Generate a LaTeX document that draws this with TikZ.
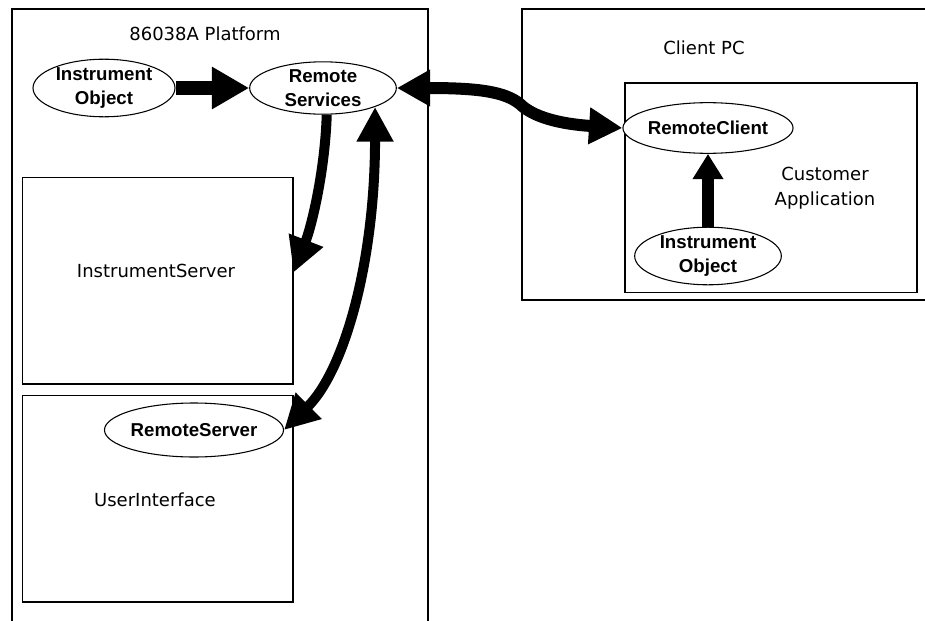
\documentclass[tikz,border=0pt]{standalone}
\usepackage{fontspec}
\setmainfont{DejaVu Sans}
\newfontfamily\ellfont{Liberation Sans}
\usetikzlibrary{shapes.geometric,arrows.meta}

\tikzset{
  oval/.style={draw,ellipse,fill=white,line width=0.8pt,inner sep=0pt,align=center,
    font=\ellfont\bfseries\fontsize{14}{18}\selectfont},
  box/.style={draw,line width=1pt,inner sep=0pt},
  lab/.style={align=center,font=\fontsize{13.5}{19}\selectfont},
  fat/.style={line width=8pt,-{Triangle[length=26pt,width=26pt]}},
  fatboth/.style={line width=8pt,{Triangle[length=26pt,width=26pt]}-{Triangle[length=26pt,width=26pt]}},
}

\begin{document}
\begin{tikzpicture}[x=0.75pt,y=-0.75pt]
  \useasboundingbox (0,0) rectangle (925,621);
  % frames, cut by the page edge
  \draw[line width=1pt] (12,621) -- (12,9) -- (428,9) -- (428,621);
  \draw[line width=1pt] (925,9) -- (522,9) -- (522,300) -- (925,300);
  \node[lab] (plat) at (205,34) {86038A Platform};
  \node[lab] (pc) at (704,48) {Client PC};

  % inner boxes
  \node[box,minimum width=203pt,minimum height=155pt] (isrv) at (157.5,280.5) {};
  \node[box,minimum width=203pt,minimum height=155pt] (ui) at (157.5,498.5) {};
  \node[box,minimum width=219pt,minimum height=157pt] (app) at (771,187.5) {};
  \node[lab] (isrvlab) at (156,271) {InstrumentServer};
  \node[lab] (uilab) at (155,500) {UserInterface};
  \node[lab] (applab) at (825,188) {Customer\\Application};

  % objects
  \node[oval,minimum width=106.5pt,minimum height=40pt] (io) at (104,88) {Instrument\\Object};
  \node[oval,minimum width=110pt,minimum height=38pt] (rs) at (323,88) {Remote\\Services};
  \node[oval,minimum width=117pt,minimum height=40.5pt] (rsrv) at (194,430) {RemoteServer};
  \node[oval,minimum width=112pt,minimum height=38pt] (rc) at (708,128) {RemoteClient};
  \node[oval,minimum width=110pt,minimum height=41pt] (cio) at (708,256) {Instrument\\Object};

  % connectors
  \draw[fat,line width=10.5pt,-{Triangle[length=28pt,width=30pt]}] (io.east) -- (rs.west);
  \draw[fat,line width=7.5pt] (rs.-82) .. controls (325,170) and (312,225) .. ([yshift=6pt]isrv.east);
  \draw[fatboth,line width=7.5pt] (rs.-20) .. controls (375,260) and (345,370) .. (rsrv.east);
  \draw[fatboth,line width=9pt,{Triangle[length=25pt,width=26pt]}-{Triangle[length=25pt,width=26pt]}]
    (rs.east) .. controls (480,88) and (505,92) .. (520,104)
    .. controls (533,117) and (560,124) .. (rc.west);
  \draw[fat,line width=9pt,-{Triangle[length=19pt,width=22pt]}] (cio.north) -- (rc.south);
\end{tikzpicture}
\end{document}
